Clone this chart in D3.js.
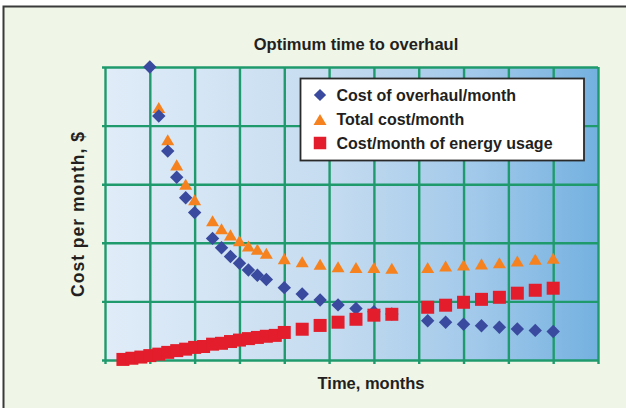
<!DOCTYPE html>
<html>
<head>
<meta charset="utf-8">
<script src="https://cdn.jsdelivr.net/npm/d3@7/dist/d3.min.js"></script>
<style>
  html, body { margin: 0; padding: 0; background: #ffffff; }
  svg { display: block; }
  text { font-family: "Liberation Sans", Arial, Helvetica, sans-serif; font-weight: bold; fill: #231f20; }
</style>
</head>
<body>
<script>
// Months at which each cost was evaluated, and the cost per month (relative units)
const energyMonths = [2,3,4,5,6,7,8,9,10,11,12,13,14,15,16,17,18,19,20,22,24,26,28,30,32,36,38,40,42,44,46,48,50];
const energyCost   = [0.2,0.6,1.0,1.5,2.0,2.6,3.2,3.7,4.3,4.6,5.4,5.7,6.3,6.8,7.3,7.7,8.1,8.4,9.4,10.5,11.8,12.9,13.9,15.3,15.6,18.0,18.7,19.7,20.7,21.4,22.8,23.8,24.5];

const overhaulMonths = [5,6,7,8,9,10,12,13,14,15,16,17,18,20,22,24,26,28,30,32,36,38,40,42,44,46,48,50];
const overhaulCost   = [100,83.3,71.3,62.4,55.4,50.3,41.5,38.3,35.3,33.0,30.7,28.9,27.5,24.7,22.5,20.5,18.8,17.6,16.5,15.7,13.4,12.9,12.2,11.7,11.2,10.6,10.1,9.7];

const totalMonths = [6,7,8,9,10,12,13,14,15,16,17,18,20,22,24,26,28,30,32,36,38,40,42,44,46,48,50];
const totalCost   = [86.2,75.2,66.6,60.0,54.7,47.5,44.8,42.7,40.7,38.9,37.8,36.4,34.6,33.5,32.7,31.8,31.6,31.6,31.3,31.6,32.1,32.4,32.8,33.2,33.8,34.4,34.7];

// Grid positions (no numeric labels are shown on either axis)
const xTicks = [0,5,10,15,20,25,30,35,40,45,50,55];
const yTicks = [0,20,40,60,80,100];

const legendLabels = ["Cost of overhaul/month", "Total cost/month", "Cost/month of energy usage"];
const chartTitle = "Optimum time to overhaul";
const xTitle = "Time, months";
const yTitle = "Cost per month, $";

const W = 626, H = 408;
const plot = { left: 105, right: 598, top: 67, bottom: 360 };

const svg = d3.select("body").append("svg").attr("width", W).attr("height", H);

// Panel background with a frame on the top and left
svg.append("rect").attr("x", 3.5).attr("y", 6.5).attr("width", W + 20).attr("height", H + 20)
  .attr("fill", "#eff5e7").attr("stroke", "#3a3a3a").attr("stroke-width", 2);

const x = d3.scaleLinear().domain([0, 55]).range([plot.left, plot.right]);
const y = d3.scaleLinear().domain([0, 100]).range([plot.bottom, plot.top]);

// Horizontal blue gradient behind the plot
const defs = svg.append("defs");
const grad = defs.append("linearGradient").attr("id", "plotFill").attr("x1", "0").attr("x2", "1").attr("y1", "0").attr("y2", "0");
grad.append("stop").attr("offset", "0%").attr("stop-color", "#e0ecf8");
grad.append("stop").attr("offset", "45%").attr("stop-color", "#c6dcf0");
grad.append("stop").attr("offset", "75%").attr("stop-color", "#a2c9ea");
grad.append("stop").attr("offset", "100%").attr("stop-color", "#74b1e0");

svg.append("rect")
  .attr("x", plot.left).attr("y", plot.top)
  .attr("width", plot.right - plot.left).attr("height", plot.bottom - plot.top)
  .attr("fill", "url(#plotFill)");

const gridColor = "#1f9a6c";

// Gridlines drawn through the library's axes, with short outward ticks
const gx = svg.append("g").attr("transform", `translate(0,${plot.bottom})`)
  .call(d3.axisBottom(x).tickValues(xTicks).tickFormat("").tickSize(-(plot.bottom - plot.top)).tickSizeOuter(0));
gx.select(".domain").remove();
gx.selectAll(".tick line").attr("y2", -(plot.bottom - plot.top)).attr("y1", 4)
  .attr("stroke", gridColor).attr("stroke-width", 2.4);

const gy = svg.append("g").attr("transform", `translate(${plot.left},0)`)
  .call(d3.axisLeft(y).tickValues(yTicks).tickFormat("").tickSize(-(plot.right - plot.left)).tickSizeOuter(0));
gy.select(".domain").remove();
gy.selectAll(".tick line").attr("x2", plot.right - plot.left).attr("x1", -3)
  .attr("stroke", gridColor).attr("stroke-width", 2.4);

// Marker shapes
const diamondSym = { draw(ctx, size) { const r = Math.sqrt(size) / 2; ctx.moveTo(0, -r); ctx.lineTo(r, 0); ctx.lineTo(0, r); ctx.lineTo(-r, 0); ctx.closePath(); } };
const triangleSym = { draw(ctx, size) { const h = Math.sqrt(size) / 2; ctx.moveTo(0, -h * 0.85); ctx.lineTo(h, h * 0.85); ctx.lineTo(-h, h * 0.85); ctx.closePath(); } };

const colors = { overhaul: "#3a4a9e", total: "#f5821f", energy: "#e31d2b" };

const markers = svg.append("g");

markers.append("g").selectAll("path").data(d3.zip(totalMonths, totalCost)).join("path")
  .attr("transform", d => `translate(${x(d[0])},${y(d[1])})`)
  .attr("d", d3.symbol().type(triangleSym).size(169))
  .attr("fill", colors.total);

markers.append("g").selectAll("path").data(d3.zip(overhaulMonths, overhaulCost)).join("path")
  .attr("transform", d => `translate(${x(d[0])},${y(d[1])})`)
  .attr("d", d3.symbol().type(diamondSym).size(180))
  .attr("fill", colors.overhaul);

markers.append("g").selectAll("path").data(d3.zip(energyMonths, energyCost)).join("path")
  .attr("transform", d => `translate(${x(d[0])},${y(d[1])})`)
  .attr("d", d3.symbol().type(d3.symbolSquare).size(169))
  .attr("fill", colors.energy);

// Title and axis titles
svg.append("text").attr("x", 356).attr("y", 50).attr("text-anchor", "middle")
  .attr("font-size", 16.5).text(chartTitle);
svg.append("text").attr("x", 371).attr("y", 389).attr("text-anchor", "middle")
  .attr("font-size", 16.5).text(xTitle);
svg.append("text").attr("transform", "translate(84,214) rotate(-90)").attr("text-anchor", "middle")
  .attr("font-size", 17.5).attr("letter-spacing", 1).text(yTitle);

// Legend
const legend = svg.append("g");
legend.append("rect").attr("x", 300.5).attr("y", 78.5).attr("width", 283.5).attr("height", 82)
  .attr("fill", "#ffffff").attr("stroke", "#2a2a2a").attr("stroke-width", 1.8);

const legendItems = [
  { label: legendLabels[0], type: diamondSym, size: 150, color: colors.overhaul },
  { label: legendLabels[1], type: triangleSym, size: 169, color: colors.total },
  { label: legendLabels[2], type: d3.symbolSquare, size: 156, color: colors.energy }
];
const rowY = [95, 119.5, 143];
legendItems.forEach((it, i) => {
  legend.append("path").attr("transform", `translate(320,${rowY[i]})`)
    .attr("d", d3.symbol().type(it.type).size(it.size)).attr("fill", it.color);
  legend.append("text").attr("x", 336.5).attr("y", rowY[i] + 5.8).attr("font-size", 16).text(it.label);
});
</script>
</body>
</html>
